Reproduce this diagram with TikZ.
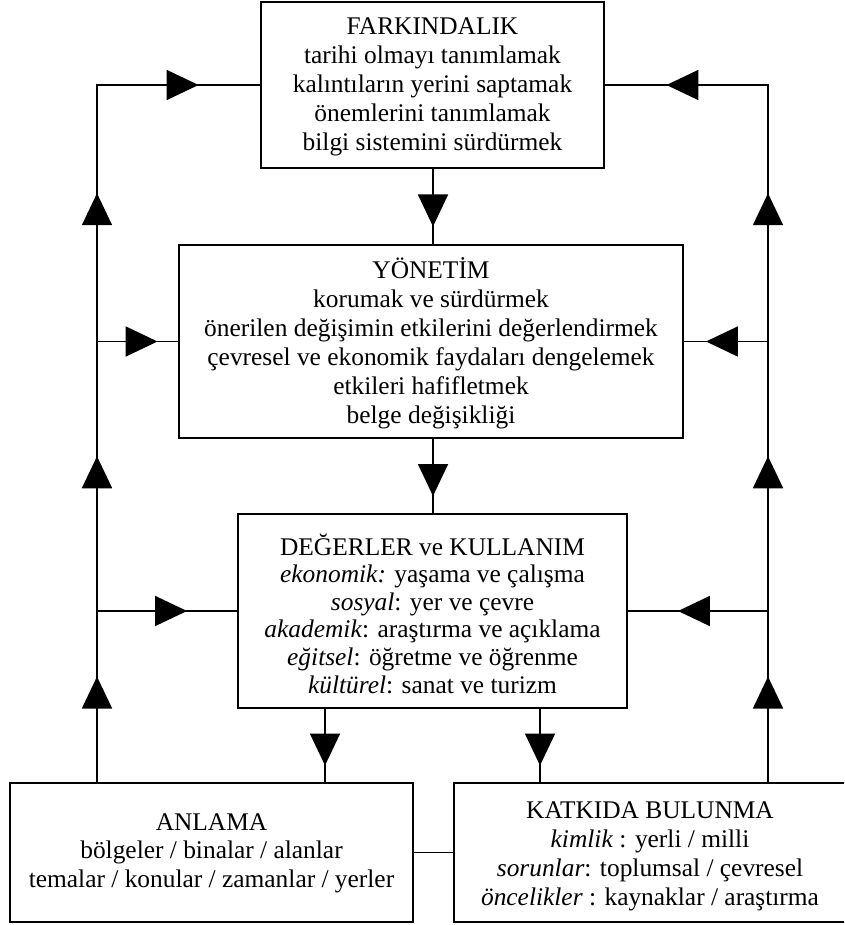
\documentclass[tikz,border=0pt]{standalone}
\usepackage{fontspec}
\setmainfont{Liberation Serif}
\usetikzlibrary{arrows.meta,decorations.markings}
\newcommand{\topS}[1]{\rule{0pt}{#1pt}}
\newcommand{\botS}{\rule[-8pt]{0pt}{8pt}}
\begin{document}
\begin{tikzpicture}[x=1pt,y=-1pt,line width=1.8pt,
  box/.style={draw, line width=1.8pt, align=center, inner sep=0pt, font=\fontsize{25.4}{29}\selectfont},
  link/.style={line cap=rect},
  mid/.style={line cap=rect, postaction={decorate}, decoration={markings, mark=at position 0.5 with {\arrow[xshift=20pt]{Triangle[length=32pt,width=30pt]}}}}]
\useasboundingbox (0,0) rectangle (844,925);
\clip (0,0) rectangle (844,925);

\node[box, minimum width=343pt, minimum height=166pt] (F) at (432.5,85)
  {\topS{24}FARKINDALIK\\tarihi olmayı tanımlamak\\kalıntıların yerini saptamak\\önemlerini tanımlamak\\bilgi sistemini sürdürmek\botS};
\node[box, minimum width=504pt, minimum height=193pt] (Y) at (431,341.5)
  {\topS{26}YÖNETİM\\korumak ve sürdürmek\\önerilen değişimin etkilerini değerlendirmek\\çevresel ve ekonomik faydaları dengelemek\\etkileri hafifletmek\\belge değişikliği\botS};
\node[box, minimum width=389pt, minimum height=194pt, font=\fontsize{25.4}{27.6}\selectfont] (D) at (432.5,611)
  {\topS{34}DEĞERLER ve KULLANIM\\\textit{ekonomik:} yaşama ve çalışma\\\textit{sosyal}: yer ve çevre\\\textit{akademik}: araştırma ve açıklama\\\textit{eğitsel}: öğretme ve öğrenme\\\textit{kültürel}: sanat ve turizm\botS};
\node[box, minimum width=403pt, minimum height=139pt, font=\fontsize{25.4}{28.5}\selectfont] (A) at (211.5,852.5)
  {\topS{20}ANLAMA\\bölgeler / binalar / alanlar\\temalar / konular / zamanlar / yerler\botS};
\node[box, minimum width=392pt, minimum height=139pt] (K) at (650,852.5)
  {\topS{26}KATKIDA BULUNMA\\\textit{kimlik} : yerli / milli\\\textit{sorunlar}: toplumsal / çevresel\\\textit{öncelikler} : kaynaklar / araştırma\botS};

\coordinate (L) at (97,0);
\coordinate (R) at (768,0);
\coordinate (M) at (433,0);
\coordinate (P) at (325,0);
\coordinate (Q) at (540,0);

% left feedback
\draw[mid] (A.north -| L) -- (D.west -| L);
\draw[mid] (D.west -| L) -- (Y.west -| L);
\draw[mid] (Y.west -| L) -- (F.west -| L);
\draw[mid] (F.west -| L) -- (F.west);
\draw[mid] (Y.west -| L) -- (Y.west);
\draw[mid] (D.west -| L) -- (D.west);
% right feedback
\draw[mid] (K.north -| R) -- (D.east -| R);
\draw[mid] (D.east -| R) -- (Y.east -| R);
\draw[mid] (Y.east -| R) -- (F.east -| R);
\draw[mid] (F.east -| R) -- (F.east);
\draw[mid] (Y.east -| R) -- (Y.east);
\draw[mid] (D.east -| R) -- (D.east);
% downward flow
\draw[mid] (F.south -| M) -- (Y.north -| M);
\draw[mid] (Y.south -| M) -- (D.north -| M);
\draw[mid] (D.south -| P) -- (A.north -| P);
\draw[mid] (D.south -| Q) -- (K.north -| Q);
% link
\draw[link] (A.east) -- (K.west);
\end{tikzpicture}
\end{document}
